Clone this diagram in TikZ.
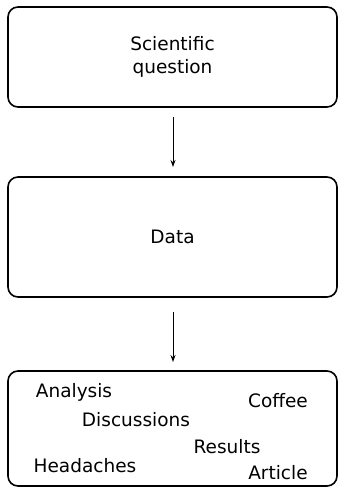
\documentclass[tikz,border=0pt]{standalone}
\usepackage{fontspec}
\setmainfont{DejaVu Sans}
\usetikzlibrary{arrows.meta}
\begin{document}
\begin{tikzpicture}[x=1pt,y=-1pt,
  box/.style={draw, line width=1.6pt, rounded corners=10pt},
  lbl/.style={font=\fontsize{18.5}{23}\selectfont, inner sep=0pt},
  arr/.style={-{Stealth[length=7pt,width=5pt]}, line width=0.9pt}]
\useasboundingbox (0,0) rectangle (339,489);
\node[box, minimum width=329pt, minimum height=100pt, align=center, font=\fontsize{18.5}{23}\selectfont] (q) at (172.5,57) {Scientific\\question};
\node[box, minimum width=329pt, minimum height=120pt, font=\fontsize{18.5}{23}\selectfont] (d) at (172.5,237) {Data};
\node[box, minimum width=329pt, minimum height=115pt] (w) at (172.5,428.5) {};
\coordinate (a1s) at (173,117);
\coordinate (a1e) at (173,167);
\coordinate (a2s) at (173,312);
\coordinate (a2e) at (173,362);
\draw[arr] (a1s) -- (a1e);
\draw[arr] (a2s) -- (a2e);
\node[lbl] (an) at (74,392) {Analysis};
\node[lbl] (co) at (278,401) {Coffee};
\node[lbl] (di) at (136,420) {Discussions};
\node[lbl] (re) at (227,447) {Results};
\node[lbl] (he) at (85,466) {Headaches};
\node[lbl] (ar) at (278,473) {Article};
\end{tikzpicture}
\end{document}
